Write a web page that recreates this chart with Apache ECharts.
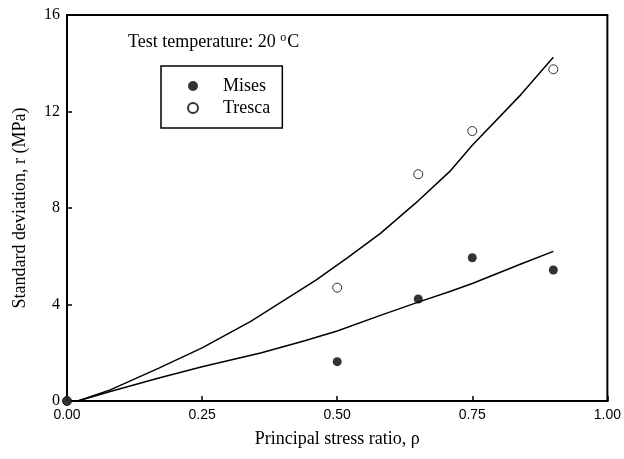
<!DOCTYPE html>
<html>
<head>
<meta charset="utf-8">
<script src="https://cdn.jsdelivr.net/npm/echarts@6/dist/echarts.min.js"></script>
<style>
  html, body { margin: 0; padding: 0; background: #fff; }
  #chart { width: 624px; height: 459px; }
</style>
</head>
<body>
<div id="chart"></div>
<script>
// Measured points: principal stress ratio vs. standard deviation (MPa)
var misesRho = [0, 0.5, 0.65, 0.75, 0.9];
var misesSd = [0, 1.63, 4.23, 5.94, 5.43];
var trescaRho = [0, 0.5, 0.65, 0.75, 0.9];
var trescaSd = [0, 4.7, 9.4, 11.19, 13.75];

// Fitted curves
var misesFitRho = [0.02, 0.08, 0.17, 0.25, 0.36, 0.44, 0.5, 0.58, 0.65, 0.71, 0.75, 0.84, 0.9];
var misesFitSd = [0, 0.39, 0.95, 1.42, 2.0, 2.5, 2.9, 3.55, 4.1, 4.55, 4.87, 5.68, 6.2];
var trescaFitRho = [0.02, 0.08, 0.17, 0.25, 0.34, 0.46, 0.52, 0.58, 0.645, 0.71, 0.75, 0.84, 0.9];
var trescaFitSd = [0, 0.46, 1.36, 2.2, 3.3, 5.0, 5.95, 6.95, 8.2, 9.55, 10.6, 12.7, 14.25];

var xTicks = [0, 0.25, 0.5, 0.75, 1.0];
var yTicks = [0, 4, 8, 12, 16];

function pairs(xs, ys) {
  return xs.map(function (x, i) { return [x, ys[i]]; });
}

var serif = '"Liberation Serif", "DejaVu Serif", serif';
var sans = '"Liberation Sans", Arial, sans-serif';

var chart = echarts.init(document.getElementById('chart'), null, { renderer: 'canvas' });

chart.setOption({
  backgroundColor: '#fff',
  animation: false,
  grid: {
    left: 67, right: 14, top: 15, bottom: 58,
    show: true, borderColor: '#000', borderWidth: 2, backgroundColor: 'transparent'
  },
  xAxis: {
    type: 'value',
    min: xTicks[0], max: xTicks[xTicks.length - 1], interval: 0.25,
    name: 'Principal stress ratio, ρ',
    nameLocation: 'middle', nameGap: 29,
    nameTextStyle: { fontFamily: serif, fontSize: 18, color: '#000' },
    axisLine: { lineStyle: { color: '#000', width: 2 } },
    axisTick: { inside: true, length: 5, lineStyle: { color: '#000', width: 1.5 } },
    axisLabel: {
      fontFamily: sans, fontSize: 14, color: '#000', margin: 7,
      formatter: function (v) { return v.toFixed(2); }
    },
    splitLine: { show: false }
  },
  yAxis: {
    type: 'value',
    min: yTicks[0], max: yTicks[yTicks.length - 1], interval: 4,
    name: 'Standard deviation, r (MPa)',
    nameLocation: 'middle', nameGap: 38,
    nameTextStyle: { fontFamily: serif, fontSize: 18, color: '#000' },
    axisLine: { lineStyle: { color: '#000', width: 2 } },
    axisTick: { inside: true, length: 5, lineStyle: { color: '#000', width: 1.5 } },
    axisLabel: { fontFamily: serif, fontSize: 16, color: '#000', margin: 7 },
    splitLine: { show: false }
  },
  legend: {
    orient: 'vertical',
    left: 161, top: 66,
    data: ['Mises', 'Tresca'],
    borderColor: '#000', borderWidth: 1.5,
    padding: [11, 12, 11, 26],
    itemGap: 4,
    itemWidth: 10, itemHeight: 10,
    textStyle: { fontFamily: serif, fontSize: 18, color: '#000', padding: [0, 0, 0, 20] }
  },
  graphic: [{
    type: 'text',
    left: 128, top: 32,
    style: {
      text: 'Test temperature: 20 {sup|o}C',
      font: '18px ' + serif,
      fill: '#000',
      rich: {
        sup: { fontFamily: serif, fontSize: 12, verticalAlign: 'top', padding: [0, 1, 9, 0], fill: '#000' }
      }
    }
  }],
  series: [
    {
      name: 'Mises fit', type: 'line', smooth: false, symbol: 'none',
      data: pairs(misesFitRho, misesFitSd),
      lineStyle: { color: '#000', width: 1.5 }, z: 2
    },
    {
      name: 'Tresca fit', type: 'line', smooth: false, symbol: 'none',
      data: pairs(trescaFitRho, trescaFitSd),
      lineStyle: { color: '#000', width: 1.5 }, z: 2
    },
    {
      name: 'Tresca', type: 'scatter', symbol: 'circle', symbolSize: 9,
      data: pairs(trescaRho, trescaSd),
      itemStyle: { color: '#fff', borderColor: '#000', borderWidth: 1 }, z: 3
    },
    {
      name: 'Mises', type: 'scatter', symbol: 'circle', symbolSize: 9,
      data: pairs(misesRho, misesSd),
      itemStyle: { color: '#000' }, z: 4
    }
  ]
});
</script>
</body>
</html>
